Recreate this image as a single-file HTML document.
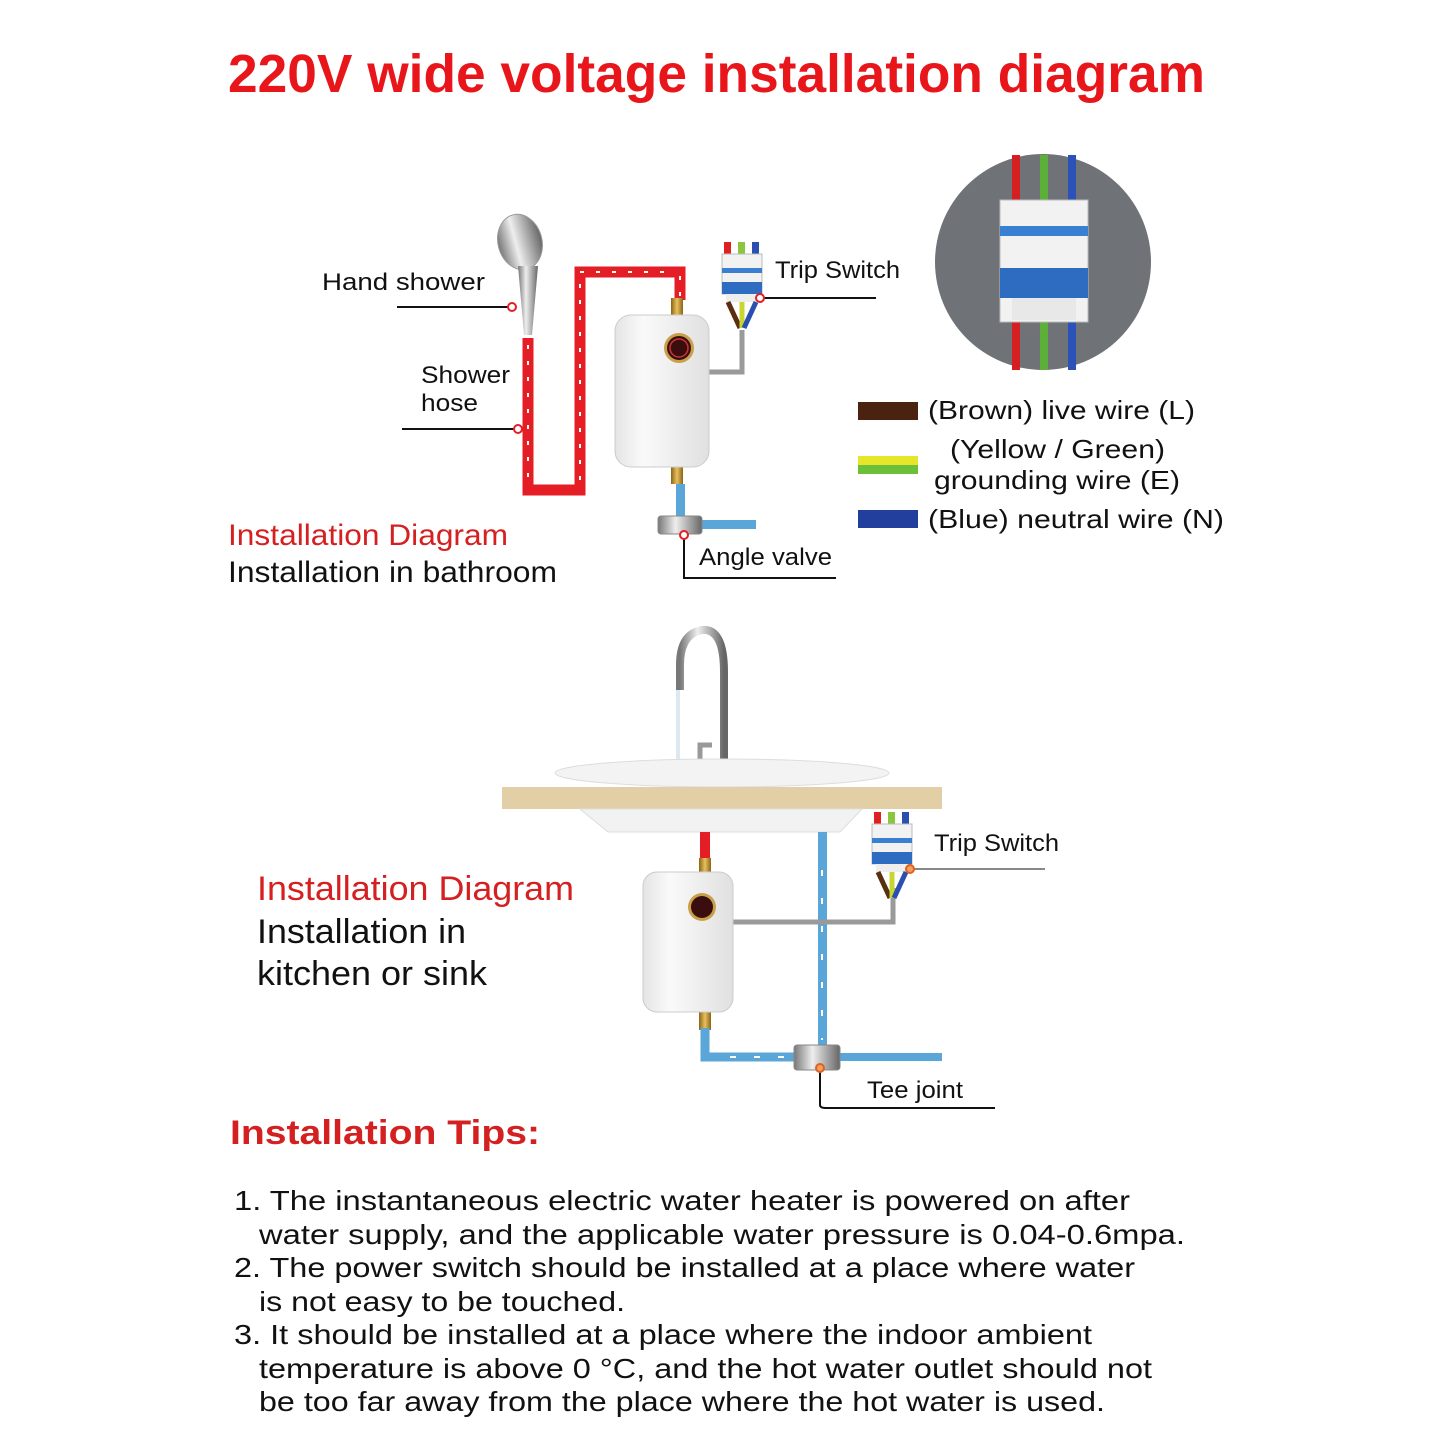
<!DOCTYPE html>
<html><head><meta charset="utf-8"><style>
html,body{margin:0;padding:0;background:#fff}
svg{display:block}
text{font-family:"Liberation Sans",Arial,sans-serif}
</style></head><body>
<svg width="1445" height="1445" viewBox="0 0 1445 1445" xmlns="http://www.w3.org/2000/svg">
<defs>
<linearGradient id="chrome" x1="0" x2="1"><stop offset="0" stop-color="#777"/><stop offset=".4" stop-color="#eee"/><stop offset="1" stop-color="#666"/></linearGradient>
<linearGradient id="brass" x1="0" x2="1"><stop offset="0" stop-color="#8a6414"/><stop offset=".5" stop-color="#e8c060"/><stop offset="1" stop-color="#8a6414"/></linearGradient>
<linearGradient id="heater" x1="0" x2="1"><stop offset="0" stop-color="#e4e4e4"/><stop offset=".3" stop-color="#fafafa"/><stop offset="1" stop-color="#e0e0e0"/></linearGradient>
<g id="switch">
<rect x="2" y="0" width="7" height="12" fill="#e02020"/><rect x="16" y="0" width="7" height="12" fill="#8cc63f"/><rect x="30" y="0" width="7" height="12" fill="#2a4fb0"/>
<rect x="0" y="12" width="40" height="40" fill="#f2f2f2" stroke="#bbb"/>
<rect x="0" y="26" width="40" height="5" fill="#3a7fd0"/>
<rect x="0" y="40" width="40" height="12" fill="#2d6cc0"/>
<rect x="4" y="52" width="32" height="8" fill="#eee"/>
<path d="M6 60 L18 86" stroke="#5a2e10" stroke-width="5"/>
<path d="M20 60 L20 86" stroke="#c8d630" stroke-width="5"/>
<path d="M34 60 L22 86" stroke="#2a4fb0" stroke-width="5"/>
</g>
</defs>

<text x="228" y="92" font-size="54" font-weight="bold" fill="#e8161b" textLength="977" lengthAdjust="spacingAndGlyphs">220V wide voltage installation diagram</text>

<!-- TOP: shower -->
<ellipse cx="520" cy="242" rx="22" ry="28" fill="url(#chrome)" stroke="#999" transform="rotate(-15 520 242)"/>
<path d="M518 266 L524 335 L532 335 L538 266 Z" fill="url(#chrome)"/>
<path d="M528 338 V490 H580 V272 H680 V300" fill="none" stroke="#e41e24" stroke-width="11"/>
<path d="M528 345 V486 M580 480 V278 M580 272 H675 M680 276 V298" fill="none" stroke="#fff" stroke-width="2" stroke-dasharray="4 12"/>
<text x="322" y="290" font-size="24" fill="#111" textLength="163" lengthAdjust="spacingAndGlyphs">Hand shower</text>
<line x1="397" y1="307" x2="508" y2="307" stroke="#111" stroke-width="2"/>
<circle cx="512" cy="307" r="4" fill="#fff" stroke="#e41e24" stroke-width="2"/>
<text x="421" y="383" font-size="24" fill="#111" textLength="89" lengthAdjust="spacingAndGlyphs">Shower</text>
<text x="421" y="411" font-size="24" fill="#111" textLength="57" lengthAdjust="spacingAndGlyphs">hose</text>
<line x1="402" y1="429" x2="514" y2="429" stroke="#111" stroke-width="2"/>
<circle cx="518" cy="429" r="4" fill="#fff" stroke="#e41e24" stroke-width="2"/>
<rect x="671" y="298" width="12" height="18" fill="url(#brass)"/>
<rect x="671" y="466" width="12" height="18" fill="url(#brass)"/>
<path d="M708 372 H742 V330" fill="none" stroke="#9a9a9a" stroke-width="5"/>
<rect x="615" y="315" width="94" height="152" rx="16" fill="url(#heater)" stroke="#ccc"/>
<circle cx="679" cy="348" r="15" fill="#c9a04a"/><circle cx="679" cy="348" r="12" fill="#3a0e0e"/><circle cx="679" cy="348" r="9" fill="none" stroke="#c33" stroke-width="1.5"/>
<rect x="676" y="484" width="9" height="36" fill="#5aa6d8"/>
<rect x="700" y="520" width="56" height="9" fill="#5aa6d8"/>
<rect x="658" y="516" width="44" height="18" rx="3" fill="url(#chrome)" stroke="#888"/>
<path d="M684 535 V578 H836" fill="none" stroke="#111" stroke-width="2"/>
<circle cx="684" cy="535" r="4" fill="#fff" stroke="#e41e24" stroke-width="2"/>
<text x="699" y="565" font-size="24" fill="#111" textLength="133" lengthAdjust="spacingAndGlyphs">Angle valve</text>
<use href="#switch" x="722" y="242"/>
<text x="775" y="278" font-size="24" fill="#111" textLength="125" lengthAdjust="spacingAndGlyphs">Trip Switch</text>
<line x1="760" y1="298" x2="876" y2="298" stroke="#111" stroke-width="2"/>
<circle cx="760" cy="298" r="4" fill="#fff" stroke="#e41e24" stroke-width="2"/>
<circle cx="1043" cy="262" r="108" fill="#6f7378"/>
<rect x="1012" y="155" width="8" height="215" fill="#d42020"/><rect x="1040" y="155" width="8" height="215" fill="#5cb03a"/><rect x="1068" y="155" width="8" height="215" fill="#2a52b8"/>
<rect x="1000" y="200" width="88" height="122" fill="#f2f2f2" stroke="#bbb"/>
<rect x="1000" y="226" width="88" height="10" fill="#3a80d2"/>
<rect x="1000" y="268" width="88" height="30" fill="#2d6cc0"/>
<rect x="1012" y="298" width="64" height="22" fill="#e8e8e8"/>
<rect x="858" y="402" width="60" height="18" fill="#4a2310"/>
<text x="928" y="419" font-size="26" fill="#111" textLength="267" lengthAdjust="spacingAndGlyphs">(Brown) live wire (L)</text>
<rect x="858" y="456" width="60" height="9" fill="#e6e62a"/><rect x="858" y="465" width="60" height="9" fill="#6cbf3a"/>
<text x="950" y="458" font-size="26" fill="#111" textLength="215" lengthAdjust="spacingAndGlyphs">(Yellow / Green)</text>
<text x="934" y="489" font-size="26" fill="#111" textLength="246" lengthAdjust="spacingAndGlyphs">grounding wire (E)</text>
<rect x="858" y="510" width="60" height="18" fill="#233f9e"/>
<text x="928" y="528" font-size="26" fill="#111" textLength="296" lengthAdjust="spacingAndGlyphs">(Blue) neutral wire (N)</text>
<text x="228" y="545" font-size="30" fill="#d42020" textLength="280" lengthAdjust="spacingAndGlyphs">Installation Diagram</text>
<text x="228" y="582" font-size="30" fill="#111" textLength="329" lengthAdjust="spacingAndGlyphs">Installation in bathroom</text>

<!-- BOTTOM: sink -->
<rect x="676" y="690" width="4" height="70" fill="#dde8f0"/>
<path d="M724 760 V672 Q724 628 702 630 Q680 634 680 665 V690" fill="none" stroke="url(#chrome)" stroke-width="8"/>
<path d="M700 760 V745 H712" fill="none" stroke="#999" stroke-width="5"/>
<ellipse cx="722" cy="773" rx="167" ry="14" fill="#f3f3f3" stroke="#ddd"/>
<rect x="502" y="787" width="440" height="22" fill="#e2cfa5"/>
<path d="M580 809 H862 L840 832 H608 Z" fill="#f2f2f2" stroke="#ddd"/>
<rect x="700" y="832" width="10" height="28" fill="#e41e24"/>
<rect x="699" y="858" width="12" height="16" fill="url(#brass)"/>
<rect x="699" y="1010" width="12" height="20" fill="url(#brass)"/>
<rect x="818" y="832" width="9" height="215" fill="#5aa6d8"/>
<path d="M822 870 V1040" stroke="#fff" stroke-width="2" stroke-dasharray="6 22"/>
<path d="M705 1028 V1057 H800" fill="none" stroke="#5aa6d8" stroke-width="9"/>
<path d="M730 1057 H790" stroke="#fff" stroke-width="2" stroke-dasharray="6 18"/>
<rect x="838" y="1053" width="104" height="8" fill="#5aa6d8"/>
<path d="M733 922 H893 V888" fill="none" stroke="#9a9a9a" stroke-width="5"/>
<rect x="643" y="872" width="90" height="140" rx="14" fill="url(#heater)" stroke="#ccc"/>
<circle cx="702" cy="907" r="14" fill="#c9a04a"/><circle cx="702" cy="907" r="11" fill="#3a0e0e"/>
<rect x="794" y="1045" width="46" height="25" rx="3" fill="url(#chrome)" stroke="#888"/>
<path d="M820 1068 V1105 Q820 1108 826 1108 H995" fill="none" stroke="#111" stroke-width="2"/>
<circle cx="820" cy="1068" r="4" fill="#f0a060" stroke="#e06020" stroke-width="2"/>
<text x="867" y="1098" font-size="24" fill="#111" textLength="96" lengthAdjust="spacingAndGlyphs">Tee joint</text>
<use href="#switch" x="872" y="812"/>
<text x="934" y="851" font-size="24" fill="#111" textLength="125" lengthAdjust="spacingAndGlyphs">Trip Switch</text>
<line x1="910" y1="869" x2="1045" y2="869" stroke="#888" stroke-width="2"/>
<circle cx="910" cy="869" r="4" fill="#f0a060" stroke="#e06020" stroke-width="2"/>
<text x="257" y="900" font-size="34" fill="#d42020" textLength="317" lengthAdjust="spacingAndGlyphs">Installation Diagram</text>
<text x="257" y="943" font-size="34" fill="#111" textLength="209" lengthAdjust="spacingAndGlyphs">Installation in</text>
<text x="257" y="985" font-size="34" fill="#111" textLength="230" lengthAdjust="spacingAndGlyphs">kitchen or sink</text>

<text x="230" y="1144" font-size="34" font-weight="bold" fill="#d42020" textLength="310" lengthAdjust="spacingAndGlyphs">Installation Tips:</text>
<g font-size="28" fill="#111">
<text x="234" y="1210" textLength="896" lengthAdjust="spacingAndGlyphs">1. The instantaneous electric water heater is powered on after</text>
<text x="259" y="1244" textLength="926" lengthAdjust="spacingAndGlyphs">water supply, and the applicable water pressure is 0.04-0.6mpa.</text>
<text x="234" y="1277" textLength="901" lengthAdjust="spacingAndGlyphs">2. The power switch should be installed at a place where water</text>
<text x="259" y="1311" textLength="366" lengthAdjust="spacingAndGlyphs">is not easy to be touched.</text>
<text x="234" y="1344" textLength="858" lengthAdjust="spacingAndGlyphs">3. It should be installed at a place where the indoor ambient</text>
<text x="259" y="1378" textLength="893" lengthAdjust="spacingAndGlyphs">temperature is above 0 °C, and the hot water outlet should not</text>
<text x="259" y="1411" textLength="846" lengthAdjust="spacingAndGlyphs">be too far away from the place where the hot water is used.</text>
</g>
</svg>
</body></html>
